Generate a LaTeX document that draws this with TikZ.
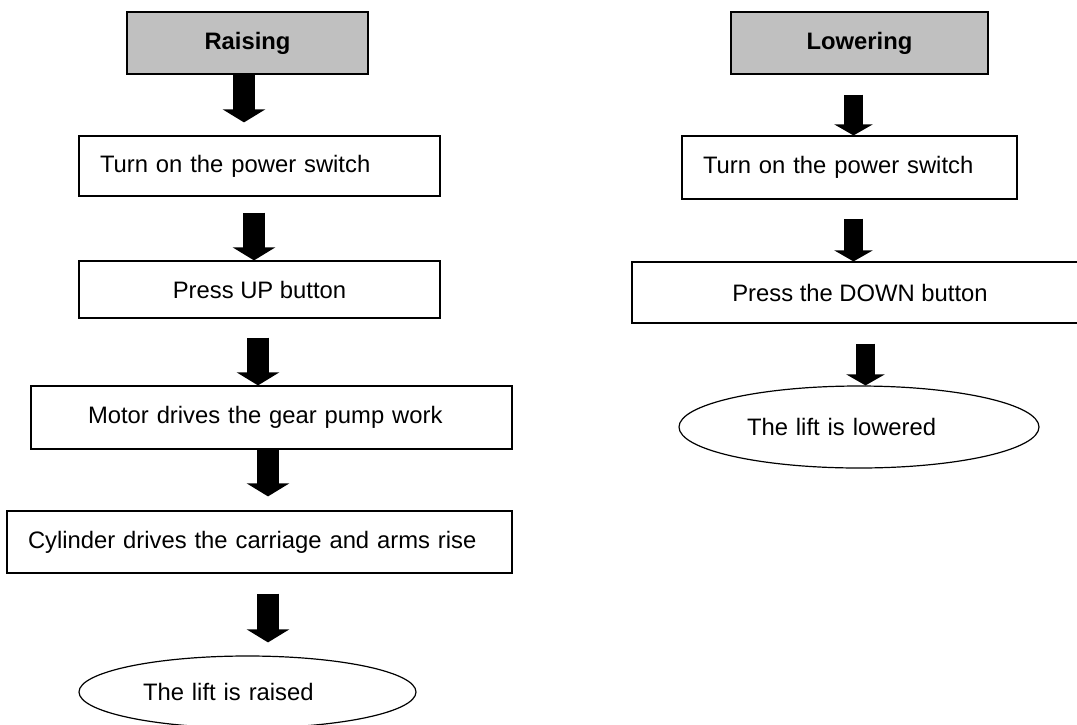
\documentclass[tikz,border=0pt]{standalone}
\usepackage{fontspec}
\setmainfont{Liberation Sans}
\usetikzlibrary{arrows.meta, positioning, shapes.geometric}
\definecolor{headgray}{RGB}{192,192,192}

\tikzset{
  stepbox/.style={draw, line width=0.6pt, inner xsep=0pt, align=left},
  headbox/.style={stepbox, fill=headgray, align=center, font=\fontsize{11.9}{14}\selectfont\bfseries},
  endoval/.style={draw, ellipse, line width=0.6pt, inner xsep=0pt, align=left},
  fatarrow/.style={line width=11pt, -{Triangle[width=21pt,length=6.5pt]}},
  slimarrow/.style={line width=9.75pt, -{Triangle[width=19pt,length=5.5pt]}}
}

\begin{document}
\begin{tikzpicture}[x=0.5pt, y=-0.5pt, every node/.style={font=\fontsize{11.9}{14}\selectfont}]
    \useasboundingbox (0,0) rectangle (1077,724);
    \clip (0,0) rectangle (1077,724);
    % raising
    \node[headbox, minimum width=120.5pt, minimum height=31pt] (raise) at (247.5,43) {Raising};
    \node[stepbox, minimum width=180.5pt, minimum height=30pt, text width=159.5pt] (s1) at (259.5,166) {Turn on the power switch};
    \node[stepbox, minimum width=180.5pt, minimum height=28.5pt, align=center] (s2) at (259.5,289.5) {Press UP button};
    \node[stepbox, minimum width=240.5pt, minimum height=31.5pt, text width=183.5pt] (s3) at (271.5,417.5) {Motor drives the gear pump work};
    \node[stepbox, minimum width=252.5pt, minimum height=31pt, text width=231.5pt] (s4) at (259.5,542) {Cylinder drives the carriage and arms rise};
    \node[endoval, minimum width=168.5pt, minimum height=36pt, text width=104.5pt] (end1) at (247.5,692) {The lift is raised};
    % lowering
    \node[headbox, minimum width=128.5pt, minimum height=31pt] (lower) at (859.5,43) {Lowering};
    \node[stepbox, minimum width=167.5pt, minimum height=31.5pt, text width=146.5pt] (r1) at (849.5,167.5) {Turn on the power switch};
    \node[stepbox, minimum width=228pt, minimum height=30.5pt, align=center] (r2) at (860,292.5) {Press the DOWN button};
    \node[endoval, minimum width=180pt, minimum height=41pt, text width=112pt] (end2) at (859,427) {The lift is lowered};
    % arrows
    \foreach \a/\b/\dx/\gs/\ge/\st in {raise/s1/-1.75/0/6.5/fatarrow, s1/s2/-2.75/8/0/fatarrow,
        s2/s3/-0.75/9.5/0/fatarrow, s3/s4/-1.75/0/7/fatarrow, s4/end1/4.25/10/6.5/fatarrow,
        lower/r1/-3/10/0/slimarrow, r1/r2/2/9.5/0/slimarrow, r2/end2/2.75/10/0/slimarrow}{
      \draw[\st, shorten <=\gs pt, shorten >=\ge pt] ([xshift=\dx pt]\a.south) coordinate (t) -- (t |- \b.north);
    }
\end{tikzpicture}
\end{document}
